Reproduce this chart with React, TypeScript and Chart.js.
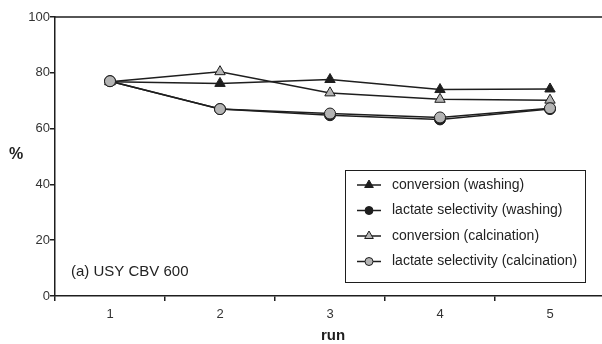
import React, { useEffect, useRef } from "react";
import { Chart, registerables } from "chart.js";

Chart.register(...registerables);

const runs = ["1", "2", "3", "4", "5"];
const conversionWashing = [76.8, 76.2, 77.6, 74.0, 74.2];
const selectivityWashing = [77, 67.0, 64.8, 63.3, 67.0];
const conversionCalcination = [76.8, 80.4, 72.8, 70.5, 70.2];
const selectivityCalcination = [77, 67.0, 65.4, 64.0, 67.3];
const yTicks = [0, 20, 40, 60, 80, 100];

const seriesNames = [
  "conversion (washing)",
  "lactate selectivity (washing)",
  "conversion (calcination)",
  "lactate selectivity (calcination)",
];

const FONT = "'Liberation Sans', Arial, sans-serif";
const INK = "#1e1e1e";
const DARK = "#1e1e1e";
const GREY = "#b4b4b4";

function drawMarker(ctx: CanvasRenderingContext2D, style: string, x: number, y: number, r: number, fill: string) {
  ctx.save();
  ctx.beginPath();
  if (style === "triangle") {
    let rad = 0;
    const TT = (2 * Math.PI) / 3;
    ctx.moveTo(x + Math.sin(rad) * r, y - Math.cos(rad) * r);
    rad += TT;
    ctx.lineTo(x + Math.sin(rad) * r, y - Math.cos(rad) * r);
    rad += TT;
    ctx.lineTo(x + Math.sin(rad) * r, y - Math.cos(rad) * r);
    ctx.closePath();
  } else {
    ctx.arc(x, y, r, 0, Math.PI * 2);
  }
  ctx.fillStyle = fill;
  ctx.fill();
  ctx.lineWidth = 1;
  ctx.strokeStyle = INK;
  ctx.stroke();
  ctx.restore();
}

const decorPlugin = {
  id: "decor",
  afterDraw(chart: any) {
    const ctx: CanvasRenderingContext2D = chart.ctx;
    const area = chart.chartArea;
    ctx.save();
    // top border
    ctx.strokeStyle = INK;
    ctx.lineWidth = 1.5;
    ctx.beginPath();
    ctx.moveTo(area.left, area.top);
    ctx.lineTo(area.right, area.top);
    ctx.stroke();

    // axis titles
    ctx.fillStyle = INK;
    ctx.textAlign = "center";
    ctx.textBaseline = "middle";
    ctx.font = `bold 16px ${FONT}`;
    ctx.fillText("%", 16, 155);
    ctx.font = `bold 15px ${FONT}`;
    ctx.fillText("run", 333, 336);

    // panel label
    ctx.font = `15px ${FONT}`;
    ctx.textAlign = "left";
    ctx.fillStyle = "#222";
    ctx.fillText("(a) USY CBV 600", 71, 272);

    // legend
    const bx = 345.5, by = 170.5, bw = 240, bh = 112;
    ctx.fillStyle = "#fff";
    ctx.fillRect(bx, by, bw, bh);
    ctx.strokeStyle = INK;
    ctx.lineWidth = 1;
    ctx.strokeRect(bx, by, bw, bh);
    chart.data.datasets.forEach((ds: any, i: number) => {
      const y = 185 + i * 25.5;
      ctx.strokeStyle = INK;
      ctx.lineWidth = 1.5;
      ctx.beginPath();
      ctx.moveTo(357, y);
      ctx.lineTo(381, y);
      ctx.stroke();
      drawMarker(ctx, ds.pointStyle, 369, y, ds.pointStyle === "triangle" ? 5 : 4, ds.pointBackgroundColor);
      ctx.fillStyle = "#222";
      ctx.font = `14px ${FONT}`;
      ctx.textAlign = "left";
      ctx.textBaseline = "middle";
      ctx.fillText(ds.label, 392, y);
    });
    ctx.restore();
  },
};

export default function App() {
  const ref = useRef<HTMLCanvasElement | null>(null);

  useEffect(() => {
    if (!ref.current) return;
    const mk = (label: string, data: number[], style: string, fill: string, order: number) => ({
      label,
      data,
      borderColor: INK,
      borderWidth: 1.5,
      backgroundColor: fill,
      pointStyle: style,
      pointBackgroundColor: fill,
      pointBorderColor: INK,
      pointBorderWidth: 1,
      pointRadius: style === "triangle" ? 6 : 5.5,
      tension: 0,
      order,
    });
    const chart = new Chart(ref.current, {
      type: "line",
      data: {
        labels: runs,
        datasets: [
          mk(seriesNames[0], conversionWashing, "triangle", DARK, 3),
          mk(seriesNames[1], selectivityWashing, "circle", DARK, 2),
          mk(seriesNames[2], conversionCalcination, "triangle", GREY, 1),
          mk(seriesNames[3], selectivityCalcination, "circle", GREY, 0),
        ] as any,
      },
      options: {
        responsive: false,
        animation: false,
        layout: { padding: { top: 17, right: 2, left: 0, bottom: 0 } },
        plugins: { legend: { display: false }, tooltip: { enabled: false } },
        scales: {
          x: {
            type: "category",
            offset: true,
            grid: { display: true, drawOnChartArea: false, offset: true, tickLength: 5, color: INK, lineWidth: 1.5 },
            border: { display: true, color: INK, width: 1.5 },
            ticks: { font: { size: 13, family: FONT }, color: "#333", padding: 6 },
            afterFit: (s: any) => { s.height = 48; },
          },
          y: {
            min: 0,
            max: 100,
            afterBuildTicks: (s: any) => { s.ticks = yTicks.map((v) => ({ value: v })); },
            grid: { display: true, drawOnChartArea: false, tickLength: 5, color: INK, lineWidth: 1.5 },
            border: { display: true, color: INK, width: 1.5 },
            ticks: { font: { size: 13, family: FONT }, color: "#333", padding: 0 },
            afterFit: (s: any) => { s.width = 55; },
          },
        },
      } as any,
      plugins: [decorPlugin],
    });
    return () => chart.destroy();
  }, []);

  return (
    <div style={{ position: "absolute", left: 0, top: 0, width: 602, height: 344, overflow: "hidden", background: "#fff" }}>
      <canvas ref={ref} width={612} height={344} style={{ display: "block" }} />
    </div>
  );
}
